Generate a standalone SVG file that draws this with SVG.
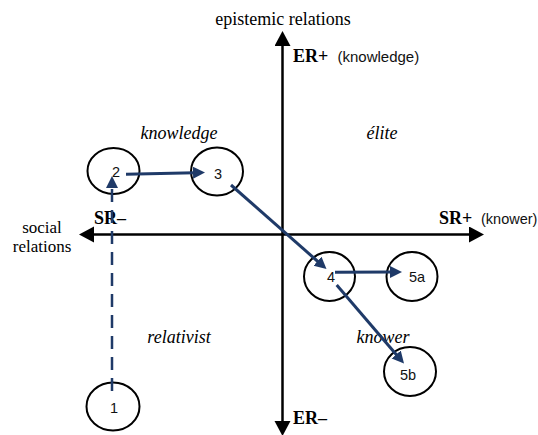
<svg xmlns="http://www.w3.org/2000/svg" width="538" height="435" viewBox="0 0 538 435">
  <style>
    .serif { font-family: "Liberation Serif", "Times New Roman", serif; fill: #000; }
    .sans { font-family: "Liberation Sans", Arial, sans-serif; fill: #111; }
    .pole { font-size: 18px; font-weight: bold; }
    .quad { font-size: 18px; font-style: italic; }
    .axis-name { font-size: 18px; }
    .side-name { font-size: 17px; }
    .note { font-size: 15px; }
    .num { font-size: 14.5px; text-anchor: middle; }
    .axis { stroke: #000; stroke-width: 2.5; fill: none; }
    .stage { fill: #fff; stroke: #000; stroke-width: 2; }
    .flow { stroke: #1f3a68; stroke-width: 3; fill: none; }
    .dashed { stroke-dasharray: 13 8; stroke-width: 2.5; }
  </style>
  <defs>
    <marker id="axis-head" markerUnits="userSpaceOnUse" markerWidth="16" markerHeight="18" refX="1" refY="8" orient="auto-start-reverse">
      <path d="M0,0 L15,8 L0,16 z" fill="#000"/>
    </marker>
    <marker id="flow-head" markerUnits="userSpaceOnUse" markerWidth="14" markerHeight="14" refX="2" refY="6" orient="auto">
      <path d="M0,0 L12,6 L0,12 z" fill="#1f3a68"/>
    </marker>
  </defs>

  <rect width="538" height="435" fill="#fff"/>

  <!-- axes -->
  <g id="axes">
    <line class="axis" x1="282.5" y1="422" x2="282.5" y2="45" marker-start="url(#axis-head)" marker-end="url(#axis-head)"/>
    <line class="axis" x1="93" y1="234.5" x2="470" y2="234.5" marker-start="url(#axis-head)" marker-end="url(#axis-head)"/>
  </g>

  <!-- axis and quadrant labels -->
  <g id="labels">
    <text class="serif axis-name" x="283" y="25" text-anchor="middle">epistemic relations</text>
    <text class="serif pole" x="293" y="62">ER+</text>
    <text class="sans note" x="337.5" y="62">(knowledge)</text>
    <text class="serif pole" x="293" y="424">ER–</text>
    <text class="serif pole" x="94" y="224">SR–</text>
    <text class="serif pole" x="439" y="224">SR+</text>
    <text class="sans note" x="481" y="224" style="font-size:14.5px">(knower)</text>
    <text class="serif side-name" x="42" y="232.5" text-anchor="middle">social</text>
    <text class="serif side-name" x="42" y="251.5" text-anchor="middle">relations</text>
    <text class="serif quad" x="179" y="139" text-anchor="middle">knowledge</text>
    <text class="serif quad" x="382" y="139" text-anchor="middle">élite</text>
    <text class="serif quad" x="179" y="343" text-anchor="middle">relativist</text>
    <text class="serif quad" x="383" y="343" text-anchor="middle">knower</text>
  </g>

  <!-- stages -->
  <g id="stage-1">
    <ellipse class="stage" cx="113" cy="406.5" rx="26.5" ry="24"/>
    <text class="sans num" x="114" y="413">1</text>
  </g>
  <g id="stage-2">
    <ellipse class="stage" cx="113.5" cy="171" rx="26" ry="23"/>
    <text class="sans num" x="116" y="177">2</text>
  </g>
  <g id="stage-3">
    <ellipse class="stage" cx="217" cy="171.5" rx="26" ry="24"/>
    <text class="sans num" x="218" y="178.5">3</text>
  </g>
  <g id="stage-4">
    <ellipse class="stage" cx="329.5" cy="276.5" rx="25.5" ry="24.5"/>
    <text class="sans num" x="331" y="282">4</text>
  </g>
  <g id="stage-5a">
    <ellipse class="stage" cx="412" cy="276.5" rx="25.5" ry="24.5"/>
    <text class="sans num" x="417" y="282">5a</text>
  </g>
  <g id="stage-5b">
    <ellipse class="stage" cx="410" cy="371.5" rx="26" ry="24.5"/>
    <text class="sans num" x="408" y="380">5b</text>
  </g>

  <!-- connectors -->
  <g id="connectors">
    <line class="flow dashed" x1="112" y1="391" x2="112" y2="186" marker-end="url(#flow-head)"/>
    <line class="flow" x1="126" y1="174.3" x2="195" y2="172.7" marker-end="url(#flow-head)"/>
    <line class="flow" x1="231" y1="185" x2="319" y2="262.5" marker-end="url(#flow-head)"/>
    <line class="flow" x1="335" y1="272.3" x2="392" y2="272" marker-end="url(#flow-head)"/>
    <line class="flow" x1="336.7" y1="285" x2="397.5" y2="356" marker-end="url(#flow-head)"/>
  </g>
</svg>
